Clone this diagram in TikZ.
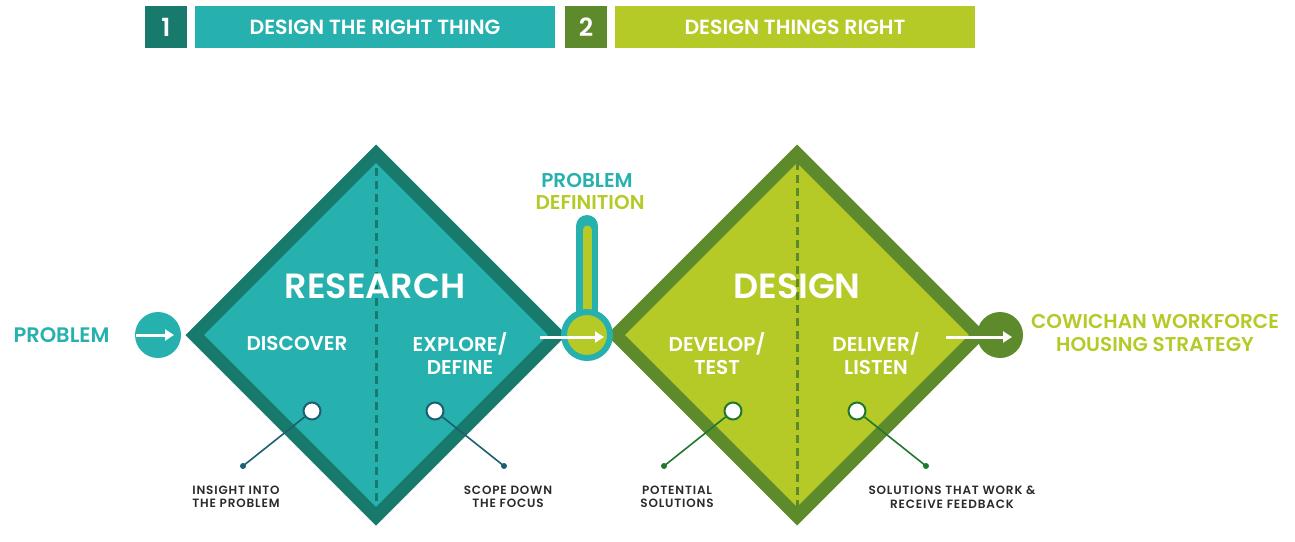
\documentclass[tikz,border=0pt]{standalone}
\usepackage{fontspec}
\setmainfont{Poppins}[BoldFont={* SemiBold}]
\newfontfamily\smallf{Poppins}[UprightFont={* SemiBold}, LetterSpace=7]
\usetikzlibrary{shapes.geometric,arrows.meta}
\definecolor{tealL}{HTML}{26B1AE}
\definecolor{tealD}{HTML}{177A6D}
\definecolor{greenL}{HTML}{B6CA27}
\definecolor{greenD}{HTML}{5D8B2C}
\definecolor{lineT}{HTML}{1D5E72}
\definecolor{lineG}{HTML}{20782C}
\definecolor{txtD}{HTML}{2A2A2A}
\tikzset{
  hdr/.style={rectangle, inner sep=0pt, minimum height=42pt, text=white, font=\bfseries\fontsize{20.5}{22}\selectfont},
  dia/.style={diamond, aspect=1, inner sep=0pt, minimum width=368pt, minimum height=368pt, line width=13pt, line join=miter},
  big/.style={text=white, font=\bfseries\fontsize{35}{38}\selectfont},
  mid/.style={text=white, align=center, font=\bfseries\fontsize{20}{23}\selectfont},
  side/.style={align=center, font=\bfseries\fontsize{20}{22.5}\selectfont},
  small/.style={text=txtD, align=center, font=\smallf\fontsize{12}{13.5}\selectfont},
  ring/.style={circle, draw, line width=2pt, fill=white, minimum size=17pt, inner sep=0pt},
  dot/.style={circle, fill, minimum size=6pt, inner sep=0pt},
  wa/.style={white, line width=3pt, -{Triangle[length=9pt,width=11pt]}},
}
\begin{document}
\begin{tikzpicture}[x=1pt,y=-1pt]
\useasboundingbox (0,0) rectangle (1295,541);
% header
\node[hdr, fill=tealD, minimum width=42pt] (h1) at (166,27) {\fontsize{25}{27}\selectfont 1};
\node[hdr, fill=tealL, minimum width=360pt] (h2) at (375,27) {DESIGN THE RIGHT THING};
\node[hdr, fill=greenD, minimum width=42pt] (h3) at (586,27) {\fontsize{25}{27}\selectfont 2};
\node[hdr, fill=greenL, minimum width=360pt] (h4) at (795,27) {DESIGN THINGS RIGHT};
% diamonds
\node[dia, draw=tealD, fill=tealL] (d1) at (376,335) {};
\node[dia, draw=greenD, fill=greenL] (d2) at (797,335) {};
\draw[tealD, line width=3pt, dash pattern=on 8pt off 5pt] (376,168) -- (376,505);
\draw[greenD, line width=3pt, dash pattern=on 8pt off 5pt] (797,162) -- (797,510);
% input circle
\node[circle, fill=tealL, minimum size=46pt, inner sep=0pt] (cin) at (158,335) {};
\coordinate (a1s) at (136,335);
\coordinate (a1e) at (174,335);
\draw[wa] (a1s) -- (a1e);
\node[side, text=tealL, anchor=west] (pin) at (10,335) {\fontsize{21}{23}\selectfont PROBLEM};
% problem definition
\draw[tealL, line width=22pt, line cap=round] (587,226) -- (587,320);
\draw[greenL, line width=9pt, line cap=round] (587,230) -- (587,320);
\node[circle, draw=tealL, line width=6pt, fill=greenL, minimum size=46pt, inner sep=0pt] (cpd) at (587,335) {};
\coordinate (a2s) at (540,337);
\coordinate (a2e) at (604,337);
\draw[wa] (a2s) -- (a2e);
\node[side, text=tealL] (pd1) at (587,180) {PROBLEM};
\node[side, text=greenL] (pd2) at (590,202) {DEFINITION};
% output circle
\node[circle, fill=greenD, minimum size=46pt, inner sep=0pt] (cout) at (1000,335) {};
\coordinate (a3s) at (946,337);
\coordinate (a3e) at (1012,337);
\draw[wa] (a3s) -- (a3e);
\node[side, text=greenL] (out) at (1155,333) {COWICHAN WORKFORCE\\HOUSING STRATEGY};
% diamond texts
\node[big] (t1) at (375,286) {RESEARCH};
\node[big] (t2) at (797,286) {DESIGN};
\node[mid] (s1) at (297,343) {DISCOVER};
\node[mid] (s2) at (460,354) {EXPLORE/\\DEFINE};
\node[mid] (s3) at (717,354) {DEVELOP/\\TEST};
\node[mid] (s4) at (876,354) {DELIVER/\\LISTEN};
% pins
\node[ring, draw=lineT] (r1) at (312,411) {};
\node[ring, draw=lineT] (r2) at (435,411) {};
\node[ring, draw=lineG] (r3) at (733,411) {};
\node[ring, draw=lineG] (r4) at (857,411) {};
\node[dot, lineT] (p1) at (243,466) {};
\node[dot, lineT] (p2) at (504,466) {};
\node[dot, lineG] (p3) at (664,466) {};
\node[dot, lineG] (p4) at (926,466) {};
\draw[lineT, line width=1.6pt] (r1) -- (p1.center);
\draw[lineT, line width=1.6pt] (r2) -- (p2.center);
\draw[lineG, line width=1.6pt] (r3) -- (p3.center);
\draw[lineG, line width=1.6pt] (r4) -- (p4.center);
\node[small] (l1) at (236,497) {INSIGHT INTO\\THE PROBLEM};
\node[small] (l2) at (508,497) {SCOPE DOWN\\THE FOCUS};
\node[small] (l3) at (677,497) {POTENTIAL\\SOLUTIONS};
\node[small] (l4) at (952,497) {SOLUTIONS THAT WORK \&\\RECEIVE FEEDBACK};
\end{tikzpicture}
\end{document}
